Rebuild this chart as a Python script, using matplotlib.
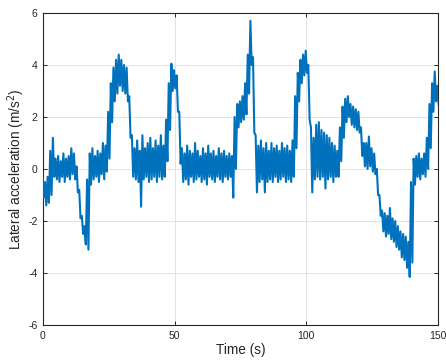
import numpy as np
import matplotlib
matplotlib.use('Agg')
import matplotlib.pyplot as plt

# per-second envelope of the lateral acceleration signal
time_s = np.arange(0, 151)
acc_hi = [-0.2, -0.5, -0.3, 0.7, 1.2, 0.4, 0.5, 0.3, 0.6, 0.4,
          0.5, 0.8, 0.6, 0.1, -0.8, -1.8, -2.2, -0.4, 0.6, 0.8,
          0.5, 0.7, 0.6, 1.0, 0.9, 2.2, 3.3, 3.9, 4.2, 4.4,
          4.2, 4.0, 3.9, 2.8, 1.3, 0.8, 1.1, 0.7, 1.3, 0.8,
          1.0, 1.2, 0.8, 1.1, 0.9, 1.3, 0.9, 1.9, 3.3, 4.05,
          3.8, 3.6, 2.2, 0.8, 0.6, 0.9, 0.7, 0.6, 1.0, 0.7,
          0.5, 0.8, 0.6, 0.9, 0.6, 0.7, 0.5, 0.8, 0.6, 0.7,
          0.5, 0.6, 0.5, 2.0, 2.5, 2.6, 2.8, 3.3, 4.4, 5.7,
          4.3, 1.3, 0.9, 1.1, 0.8, 1.0, 0.7, 1.0, 0.8, 0.9,
          0.7, 1.0, 0.8, 0.9, 0.7, 1.1, 2.8, 3.7, 4.2, 4.4,
          4.55, 4.0, 1.6, 1.2, 1.7, 1.8, 1.5, 1.4, 1.3, 1.2,
          1.0, 0.9, 0.7, 1.6, 2.4, 2.7, 2.8, 2.5, 2.4, 2.3,
          2.2, 1.6, 1.0, 1.0, 1.25, 0.8, 0.6, 0.0, -1.0, -1.6,
          -1.7, -1.8, -1.5, -1.9, -2.0, -2.2, -2.4, -2.5, -2.6, -2.8,
          -0.5, 0.4, 0.5, 0.6, 0.4, 0.6, 1.2, 2.5, 3.3, 3.75,
          3.2]
acc_lo = [-1.1, -1.4, -1.3, -1.0, -0.3, -0.4, -0.5, -0.3, -0.5, -0.3,
          -0.4, -0.2, -0.4, -0.9, -1.9, -2.5, -2.9, -3.1, -0.6, -0.4,
          -0.3, -0.5, -0.2, -0.4, -0.1, 0.4, 1.8, 2.6, 2.9, 3.2,
          3.0, 2.9, 2.6, 1.2, -0.3, -0.4, -0.5, -1.45, -0.4, -0.3,
          -0.5, -0.4, -0.3, -0.5, -0.3, -0.4, -0.3, 0.3, 1.5, 3.0,
          3.1, 2.2, 0.2, -0.5, -0.4, -0.6, -0.3, -0.5, -0.4, -0.3,
          -0.5, -0.4, -0.6, -0.3, -0.4, -0.5, -0.3, -0.4, -0.5, -0.3,
          -0.4, -0.3, -1.1, 0.0, 1.6, 1.8, 1.9, 2.1, 2.9, 4.0,
          1.4, -0.9, -0.5, -0.4, -0.9, -0.5, -0.4, -0.5, -0.3, -0.5,
          -0.4, -0.3, -0.5, -0.4, -0.5, -0.3, 0.8, 2.6, 3.3, 3.6,
          3.7, 1.9, -0.9, -0.4, -0.3, -0.4, -0.3, -0.75, -0.4, -0.3,
          -0.5, -0.3, -0.3, 0.3, 1.2, 1.8, 2.0, 1.7, 1.6, 1.5,
          1.4, 0.5, 0.1, 0.0, 0.1, -0.1, -0.2, -1.0, -1.8, -2.4,
          -2.6, -2.5, -2.7, -2.8, -3.0, -3.1, -3.4, -3.5, -3.8, -4.15,
          -3.6, -0.6, -0.3, -0.4, -0.2, -0.3, 0.0, 0.8, 2.2, 2.6,
          2.5]

x_ticks = [0, 50, 100, 150]
y_ticks = [-6, -4, -2, 0, 2, 4, 6]

plt.rcParams['font.family'] = ['Liberation Sans', 'DejaVu Sans']
plt.rcParams['axes.unicode_minus'] = False

# each second: its max a bit before the centre, its min a bit after
tt = np.column_stack([time_s - 0.25, time_s + 0.25]).ravel()
yy = np.column_stack([acc_hi, acc_lo]).ravel()

fig = plt.figure(figsize=(4.46, 3.6), dpi=100)
ax = fig.add_axes([0.0964, 0.0972, 0.8857, 0.8667])

ax.plot(tt, yy, color='#0072BD', linewidth=1.5, zorder=3)

ax.set_xlim(0, 150)
ax.set_ylim(-6, 6)
ax.set_xticks(x_ticks)
ax.set_yticks(y_ticks)
ax.grid(True, color='#e3e3e3', linewidth=0.7)
ax.set_axisbelow(True)

ax.tick_params(direction='in', length=3, width=0.7, top=True, right=True,
               labelsize=7.5, colors='#262626', pad=4)
for sp in ax.spines.values():
    sp.set_color('#262626')
    sp.set_linewidth(0.8)

ax.set_xlabel('Time (s)', fontsize=9.8, color='#262626', labelpad=2)
ax.set_ylabel('Lateral acceleration (m/s$^2$)', fontsize=9.8, color='#262626', labelpad=1)

fig.savefig('out.png', dpi=100)
